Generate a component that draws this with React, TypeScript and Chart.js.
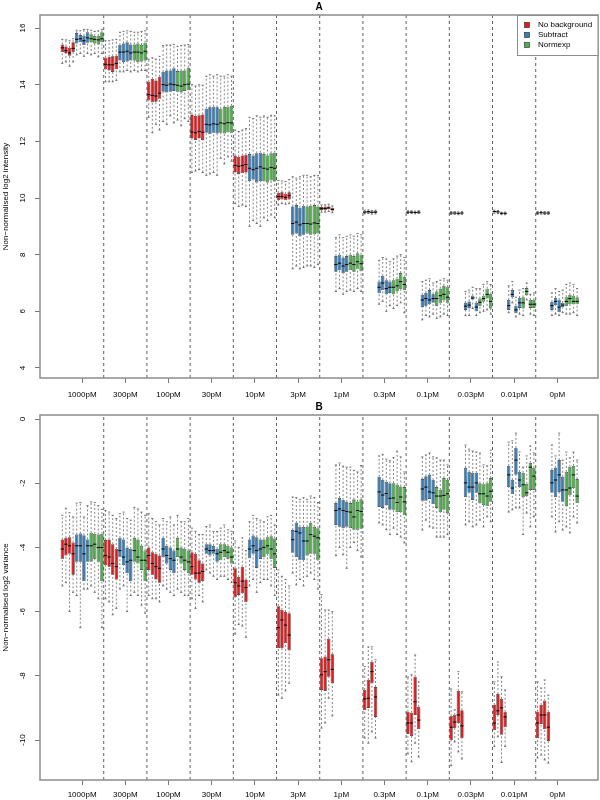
import React, { useEffect, useRef } from 'react';
import { Chart, registerables } from 'chart.js';

Chart.register(...registerables);

const FONT = "'Liberation Sans', Arial, Helvetica, sans-serif";

const CONCENTRATIONS = ['1000pM', '300pM', '100pM', '30pM', '10pM', '3pM', '1pM', '0.3pM', '0.1pM', '0.03pM', '0.01pM', '0pM'];
const SERIES = ['No background', 'Subtract', 'Normexp'];
const COLORS = ['#E41A1C', '#377EB8', '#4DAF4A'];
const REPS = 4;

// Each box: [lower whisker, Q1, median, Q3, upper whisker]; 4 replicate arrays per concentration.
const A_NOBG = [
  [14.75, 15.15, 15.3, 15.42, 15.6], [14.8, 15.1, 15.2, 15.35, 15.58], [14.65, 15.02, 15.12, 15.3, 15.55], [14.8, 15.15, 15.28, 15.5, 15.62],
  [14.1, 14.55, 14.72, 14.95, 15.55], [14.1, 14.5, 14.7, 14.98, 15.55], [14.1, 14.45, 14.7, 15.0, 15.58], [14.15, 14.55, 14.75, 15.02, 15.6],
  [12.85, 13.45, 13.65, 14.1, 14.9], [12.3, 13.38, 13.62, 14.2, 14.95], [12.6, 13.4, 13.6, 14.15, 14.9], [12.4, 13.5, 13.7, 14.28, 15.0],
  [10.9, 12.1, 12.33, 12.95, 14.0], [10.95, 12.05, 12.3, 12.9, 13.95], [11.0, 12.1, 12.35, 12.92, 14.0], [10.9, 12.05, 12.32, 12.95, 13.98],
  [9.8, 10.9, 11.15, 11.5, 12.4], [9.7, 10.85, 11.12, 11.45, 12.35], [9.75, 10.88, 11.15, 11.5, 12.4], [9.7, 10.9, 11.18, 11.52, 12.45],
  [9.75, 9.93, 10.05, 10.18, 10.62], [9.8, 9.95, 10.05, 10.2, 10.6], [9.78, 9.92, 10.02, 10.15, 10.58], [9.8, 9.95, 10.08, 10.2, 10.65],
  [9.5, 9.57, 9.62, 9.68, 9.76], [9.5, 9.57, 9.63, 9.7, 9.76], [9.52, 9.6, 9.65, 9.7, 9.78], [9.48, 9.55, 9.6, 9.66, 9.72],
  [9.44, 9.48, 9.5, 9.53, 9.57], [9.45, 9.49, 9.51, 9.54, 9.58], [9.43, 9.47, 9.5, 9.52, 9.56], [9.44, 9.48, 9.5, 9.53, 9.57],
  [9.45, 9.48, 9.5, 9.52, 9.55], [9.45, 9.48, 9.5, 9.52, 9.55], [9.44, 9.47, 9.49, 9.51, 9.54], [9.45, 9.48, 9.5, 9.52, 9.55],
  [9.42, 9.45, 9.47, 9.49, 9.52], [9.42, 9.45, 9.47, 9.49, 9.52], [9.41, 9.44, 9.46, 9.48, 9.51], [9.42, 9.45, 9.47, 9.49, 9.52],
  [9.46, 9.5, 9.52, 9.54, 9.57], [9.45, 9.49, 9.51, 9.53, 9.56], [9.41, 9.44, 9.46, 9.48, 9.5], [9.41, 9.44, 9.46, 9.48, 9.5],
  [9.42, 9.45, 9.47, 9.49, 9.52], [9.43, 9.46, 9.48, 9.5, 9.53], [9.42, 9.45, 9.47, 9.49, 9.52], [9.42, 9.45, 9.47, 9.49, 9.52],
];
const A_SUB = [
  [15.05, 15.45, 15.6, 15.82, 15.92], [15.1, 15.5, 15.62, 15.75, 15.9], [15.0, 15.4, 15.55, 15.72, 15.95], [15.1, 15.48, 15.65, 15.85, 15.95],
  [14.45, 14.85, 15.15, 15.4, 15.85], [14.45, 14.8, 15.15, 15.45, 15.88], [14.5, 14.82, 15.18, 15.5, 15.9], [14.45, 14.85, 15.12, 15.42, 15.88],
  [12.7, 13.75, 14.0, 14.45, 15.38], [12.6, 13.72, 13.98, 14.5, 15.4], [12.9, 13.75, 14.02, 14.5, 15.4], [12.65, 13.78, 14.0, 14.58, 15.42],
  [10.8, 12.3, 12.6, 13.15, 14.3], [10.85, 12.25, 12.58, 13.2, 14.35], [10.9, 12.3, 12.62, 13.22, 14.3], [10.8, 12.28, 12.6, 13.2, 14.35],
  [9.0, 10.6, 11.05, 11.55, 12.85], [9.2, 10.65, 11.0, 11.5, 12.8], [9.1, 10.55, 11.05, 11.58, 12.9], [9.0, 10.6, 11.1, 11.6, 12.85],
  [7.5, 8.7, 9.1, 9.7, 10.75], [7.6, 8.75, 9.15, 9.75, 10.7], [7.5, 8.65, 9.05, 9.65, 10.75], [7.55, 8.7, 9.1, 9.72, 10.8],
  [6.7, 7.4, 7.65, 7.95, 8.6], [6.8, 7.45, 7.7, 8.0, 8.7], [6.6, 7.35, 7.6, 7.9, 8.6], [6.7, 7.4, 7.65, 7.95, 8.65],
  [6.25, 6.64, 6.85, 7.05, 7.8], [6.35, 6.75, 7.0, 7.25, 7.9], [6.0, 6.6, 6.8, 7.1, 7.85], [6.2, 6.65, 6.85, 7.05, 7.75],
  [5.7, 6.15, 6.4, 6.58, 7.05], [5.85, 6.2, 6.45, 6.65, 7.1], [5.8, 6.25, 6.4, 6.75, 7.15], [5.9, 6.3, 6.45, 6.6, 7.0],
  [5.85, 6.05, 6.18, 6.3, 6.7], [5.85, 6.1, 6.22, 6.35, 6.75], [6.1, 6.42, 6.47, 6.55, 6.85], [5.85, 6.0, 6.15, 6.3, 6.8],
  [5.95, 6.05, 6.2, 6.4, 6.9], [6.3, 6.5, 6.6, 6.75, 7.05], [5.8, 5.93, 6.05, 6.2, 6.5], [5.9, 6.12, 6.3, 6.47, 6.75],
  [5.85, 6.05, 6.2, 6.33, 6.65], [5.9, 6.22, 6.35, 6.47, 6.8], [5.85, 5.97, 6.15, 6.4, 6.7], [5.95, 6.15, 6.22, 6.3, 6.75],
];
const A_NORM = [
  [15.05, 15.5, 15.62, 15.78, 15.92], [15.1, 15.45, 15.6, 15.72, 15.88], [14.98, 15.42, 15.58, 15.72, 15.9], [15.1, 15.5, 15.62, 15.85, 15.95],
  [14.5, 14.85, 15.15, 15.42, 15.85], [14.45, 14.8, 15.15, 15.45, 15.85], [14.5, 14.82, 15.12, 15.4, 15.88], [14.5, 14.85, 15.18, 15.48, 15.9],
  [12.75, 13.75, 13.98, 14.48, 15.35], [12.55, 13.72, 13.95, 14.5, 15.38], [12.8, 13.78, 14.0, 14.5, 15.4], [12.7, 13.8, 14.02, 14.6, 15.42],
  [11.4, 12.3, 12.65, 13.15, 14.3], [11.2, 12.28, 12.62, 13.2, 14.3], [11.45, 12.32, 12.66, 13.22, 14.35], [11.3, 12.3, 12.65, 13.25, 14.3],
  [9.3, 10.6, 11.05, 11.55, 12.9], [9.2, 10.55, 11.02, 11.5, 12.85], [9.4, 10.62, 11.08, 11.58, 12.92], [9.3, 10.58, 11.05, 11.6, 12.9],
  [7.6, 8.75, 9.1, 9.7, 10.8], [7.6, 8.7, 9.08, 9.72, 10.75], [7.55, 8.72, 9.12, 9.75, 10.8], [7.65, 8.75, 9.1, 9.7, 10.8],
  [6.75, 7.45, 7.7, 8.0, 8.7], [6.7, 7.4, 7.65, 7.95, 8.65], [6.8, 7.5, 7.75, 8.05, 8.75], [6.7, 7.42, 7.68, 8.0, 8.7],
  [6.1, 6.6, 6.85, 7.1, 7.85], [6.2, 6.7, 6.9, 7.15, 7.95], [6.3, 6.8, 7.05, 7.35, 8.0], [5.95, 6.75, 6.95, 7.2, 7.9],
  [5.75, 6.2, 6.45, 6.7, 7.05], [5.8, 6.3, 6.55, 6.8, 7.1], [5.9, 6.4, 6.6, 6.9, 7.15], [5.85, 6.3, 6.5, 6.85, 7.1],
  [5.95, 6.2, 6.32, 6.45, 6.8], [6.0, 6.35, 6.45, 6.55, 6.95], [6.05, 6.45, 6.6, 6.8, 7.05], [5.9, 6.1, 6.35, 6.6, 6.95],
  [5.85, 6.1, 6.3, 6.5, 6.8], [6.4, 6.57, 6.7, 6.82, 7.0], [5.9, 6.12, 6.25, 6.4, 6.6], [5.85, 6.12, 6.25, 6.4, 6.65],
  [5.9, 6.2, 6.35, 6.5, 6.95], [5.9, 6.25, 6.45, 6.58, 7.0], [5.95, 6.25, 6.35, 6.55, 6.95], [5.85, 6.25, 6.35, 6.5, 6.8],
];

const B_NOBG = [
  [-5.2, -4.35, -4.05, -3.75, -3.0], [-5.1, -4.25, -3.9, -3.7, -2.78], [-6.0, -4.2, -3.95, -3.68, -2.92], [-5.4, -4.85, -4.2, -3.85, -3.05],
  [-5.6, -4.55, -4.25, -3.77, -2.85], [-5.7, -4.6, -4.3, -3.75, -2.9], [-6.1, -4.85, -4.5, -3.9, -3.0], [-5.9, -5.0, -4.6, -4.05, -3.1],
  [-5.5, -4.7, -4.25, -4.0, -2.95], [-5.6, -4.85, -4.5, -4.15, -3.1], [-5.6, -5.0, -4.6, -4.2, -3.2], [-5.7, -5.1, -4.65, -4.25, -3.3],
  [-5.6, -4.85, -4.6, -4.15, -3.4], [-5.9, -5.0, -4.8, -4.2, -3.5], [-5.5, -5.1, -4.8, -4.4, -3.6], [-5.7, -5.05, -4.75, -4.5, -3.6],
  [-6.7, -5.55, -5.1, -4.65, -3.8], [-6.4, -5.48, -5.2, -4.92, -4.0], [-6.45, -5.43, -5.05, -4.6, -3.7], [-6.8, -5.7, -5.25, -5.0, -4.1],
  [-8.6, -7.14, -6.5, -5.83, -4.7], [-8.7, -7.14, -6.26, -5.95, -4.9], [-8.47, -6.98, -6.42, -6.01, -5.0], [-8.23, -7.2, -6.73, -6.05, -5.2],
  [-9.63, -8.44, -7.97, -7.45, -5.47], [-9.47, -8.47, -7.87, -7.4, -5.95], [-8.7, -8.03, -7.5, -6.85, -5.95], [-9.25, -8.23, -7.8, -7.33, -6.0],
  [-9.94, -9.07, -8.72, -8.44, -7.71], [-10.1, -9.0, -8.7, -8.13, -7.1], [-9.75, -8.23, -7.87, -7.57, -7.1], [-9.94, -9.28, -8.66, -8.35, -7.5],
  [-10.43, -9.81, -9.47, -9.12, -8.04], [-10.68, -9.88, -9.47, -9.15, -7.97], [-10.1, -9.22, -8.81, -8.03, -7.35], [-10.53, -9.66, -9.38, -8.97, -8.19],
  [-10.8, -10.0, -9.6, -9.25, -8.41], [-10.06, -9.63, -9.44, -9.22, -9.06], [-10.37, -9.47, -9.22, -8.47, -7.87], [-10.59, -9.94, -9.56, -9.07, -8.5],
  [-10.2, -9.69, -9.47, -8.91, -8.19], [-9.9, -9.22, -9.09, -8.57, -7.57], [-10.7, -9.84, -9.0, -8.72, -8.03], [-10.2, -9.6, -9.28, -9.12, -8.44],
  [-10.56, -9.94, -9.47, -9.12, -8.19], [-10.47, -9.5, -9.22, -8.91, -8.38], [-10.62, -9.66, -9.22, -8.78, -8.13], [-10.72, -10.03, -9.6, -9.12, -8.6],
];
const B_SUB = [
  [-5.5, -4.45, -3.95, -3.6, -2.62], [-6.5, -4.45, -3.95, -3.57, -2.6], [-5.3, -5.05, -4.2, -3.62, -3.05], [-5.3, -4.45, -3.95, -3.75, -2.7],
  [-5.3, -4.3, -4.1, -3.7, -2.95], [-5.2, -4.55, -4.3, -3.75, -2.9], [-6.0, -4.8, -4.45, -4.0, -3.1], [-5.5, -5.05, -4.4, -4.05, -3.15],
  [-5.2, -4.3, -4.05, -3.7, -3.1], [-5.3, -4.5, -4.25, -3.95, -3.2], [-5.4, -4.7, -4.35, -4.0, -3.05], [-5.5, -4.8, -4.4, -4.1, -3.3],
  [-4.7, -4.2, -4.05, -3.9, -3.35], [-4.8, -4.25, -4.1, -3.9, -3.3], [-4.9, -4.2, -4.1, -3.95, -3.5], [-5.0, -4.45, -4.2, -4.05, -3.5],
  [-5.2, -4.34, -4.05, -3.75, -3.2], [-5.0, -4.2, -3.95, -3.63, -3.0], [-5.4, -4.64, -4.1, -3.68, -3.1], [-5.1, -4.36, -4.05, -3.75, -3.15],
  [-4.8, -4.17, -3.76, -3.46, -2.43], [-5.17, -4.3, -3.5, -3.24, -2.45], [-5.0, -4.4, -3.55, -3.36, -2.5], [-5.2, -4.4, -3.8, -3.36, -2.45],
  [-4.26, -3.3, -2.85, -2.62, -1.43], [-4.0, -3.36, -2.8, -2.46, -1.37], [-4.23, -3.4, -2.85, -2.52, -1.47], [-4.65, -3.36, -2.88, -2.58, -1.5],
  [-3.24, -2.74, -2.27, -1.8, -1.15], [-3.3, -2.77, -2.37, -1.9, -1.1], [-3.45, -2.68, -2.32, -1.96, -1.25], [-3.6, -2.83, -2.47, -2.0, -1.3],
  [-3.46, -2.55, -2.18, -1.87, -1.18], [-3.15, -2.55, -2.12, -1.78, -1.12], [-3.36, -2.49, -2.27, -1.74, -1.06], [-3.4, -2.65, -2.3, -1.9, -1.18],
  [-3.3, -2.43, -1.99, -1.52, -0.81], [-3.2, -2.3, -2.12, -1.65, -0.94], [-3.36, -2.52, -2.12, -1.68, -1.0], [-3.3, -2.3, -1.99, -1.68, -1.03],
  [-2.9, -2.12, -1.74, -1.46, -0.72], [-2.83, -2.34, -2.15, -1.9, -0.68], [-2.77, -1.74, -1.28, -0.9, -0.44], [-2.77, -2.12, -1.9, -1.65, -1.03],
  [-3.05, -2.3, -1.99, -1.59, -0.81], [-3.52, -2.43, -1.9, -1.52, -1.15], [-3.2, -2.27, -1.74, -1.28, -0.44], [-3.46, -2.58, -2.21, -1.8, -1.28],
];
const B_NORM = [
  [-5.2, -4.45, -3.95, -3.55, -2.58], [-5.4, -4.35, -3.9, -3.58, -2.6], [-5.6, -4.45, -4.0, -3.6, -2.7], [-6.5, -5.05, -4.0, -3.58, -2.82],
  [-5.4, -4.45, -4.1, -3.7, -2.75], [-5.5, -4.5, -4.3, -3.75, -2.8], [-5.8, -4.7, -4.4, -3.95, -2.9], [-6.05, -5.05, -4.4, -4.1, -3.0],
  [-5.3, -4.3, -4.05, -3.7, -3.0], [-5.4, -4.5, -4.3, -4.0, -3.2], [-5.5, -4.7, -4.4, -4.05, -3.2], [-5.5, -4.8, -4.45, -4.1, -3.1],
  [-4.9, -4.4, -4.15, -3.9, -3.4], [-4.9, -4.3, -4.1, -3.9, -3.3], [-5.0, -4.35, -4.15, -3.95, -3.45], [-5.1, -4.5, -4.3, -4.0, -3.5],
  [-5.0, -4.3, -4.0, -3.75, -3.2], [-5.0, -4.2, -3.95, -3.68, -3.05], [-5.2, -4.35, -4.05, -3.65, -3.0], [-5.5, -4.64, -4.2, -3.72, -3.3],
  [-4.9, -4.25, -3.8, -3.36, -2.5], [-4.8, -4.2, -3.6, -3.24, -2.4], [-5.0, -4.2, -3.65, -3.36, -2.45], [-5.3, -4.4, -3.7, -3.4, -2.6],
  [-4.0, -3.4, -2.9, -2.62, -1.5], [-3.85, -3.45, -3.05, -2.5, -1.6], [-4.1, -3.45, -2.85, -2.58, -1.65], [-4.3, -3.42, -2.88, -2.5, -1.45],
  [-3.4, -2.83, -2.46, -2.0, -1.2], [-3.6, -2.9, -2.6, -2.05, -1.0], [-3.68, -2.9, -2.43, -2.1, -1.18], [-3.86, -3.0, -2.58, -2.12, -1.65],
  [-3.68, -2.77, -2.4, -2.12, -1.21], [-3.68, -2.9, -2.4, -2.21, -1.28], [-3.68, -2.83, -2.38, -1.84, -1.28], [-3.6, -2.93, -2.33, -1.9, -1.43],
  [-3.15, -2.62, -2.33, -2.0, -1.06], [-3.36, -2.68, -2.33, -2.03, -1.43], [-3.05, -2.71, -2.4, -2.0, -1.46], [-3.2, -2.58, -2.25, -1.84, -0.97],
  [-3.6, -2.43, -2.05, -1.68, -1.5], [-2.93, -2.4, -2.3, -2.02, -1.15], [-3.36, -2.21, -1.5, -1.37, -0.84], [-3.05, -2.21, -1.78, -1.52, -1.06],
  [-3.36, -2.71, -2.21, -1.65, -1.03], [-3.55, -2.37, -2.15, -1.49, -1.21], [-3.05, -2.15, -1.74, -1.46, -1.03], [-3.24, -2.62, -2.4, -1.87, -1.28],
];

const GROUP_SIZE = SERIES.length * REPS;
const X_MIN = -5.2;
const X_MAX = 149.8;
const GROUP_CENTERS = CONCENTRATIONS.map((_, g) => g * GROUP_SIZE + (GROUP_SIZE + 1) / 2);
const SEPARATORS = CONCENTRATIONS.slice(1).map((_, g) => (g + 1) * GROUP_SIZE + 0.5);
const CAP = 0.3;
const MED = 0.46;

const pos = (i: number, s: number) => Math.floor(i / REPS) * GROUP_SIZE + s * REPS + (i % REPS) + 1;

const PANEL_A = {
  title: 'A', yTitle: 'Non\u2212normalised log2 intensity', yMin: 3.647, yMax: 16.459,
  series: [A_NOBG, A_SUB, A_NORM], legend: true, xAxisHeight: 22, xTickPad: 6.6, yTickPad: 7.8,
};
const PANEL_B = {
  title: 'B', yTitle: 'Non\u2212normalised log2 variance', yMin: -11.246, yMax: 0.125,
  series: [B_NOBG, B_SUB, B_NORM], legend: false, xAxisHeight: 20, xTickPad: 4.6, yTickPad: 6.2,
};

const framePlugin = {
  id: 'frame',
  afterDatasetsDraw(chart: any) {
    const { ctx, chartArea: a } = chart;
    ctx.save();
    ctx.strokeStyle = '#8c8c8c';
    ctx.lineWidth = 1.5;
    ctx.strokeRect(a.left, a.top, a.right - a.left, a.bottom - a.top);
    ctx.restore();
  },
};

const legendPlugin = {
  id: 'boxLegend',
  afterDraw(chart: any) {
    const { ctx, chartArea: a } = chart;
    const items = chart.data.datasets.filter((d: any) => d.legendBox);
    const w = 81, rowH = 10, pad = 5;
    const x0 = a.right - w, y0 = a.top;
    const h = items.length * rowH + 2 * pad;
    ctx.save();
    ctx.fillStyle = '#ffffff';
    ctx.fillRect(x0, y0, w, h);
    ctx.strokeStyle = '#8c8c8c';
    ctx.lineWidth = 1;
    ctx.strokeRect(x0 + 0.5, y0 + 0.5, w - 0.5, h);
    ctx.font = `8px ${FONT}`;
    ctx.textBaseline = 'middle';
    ctx.textAlign = 'left';
    items.forEach((d: any, i: number) => {
      const cy = y0 + pad + rowH * i + rowH / 2;
      ctx.fillStyle = d.backgroundColor;
      ctx.fillRect(x0 + 7.5, cy - 2.5, 5, 5);
      ctx.strokeStyle = '#222';
      ctx.lineWidth = 0.6;
      ctx.strokeRect(x0 + 7.5, cy - 2.5, 5, 5);
      ctx.fillStyle = '#000';
      ctx.fillText(d.label, x0 + 21, cy);
    });
    ctx.restore();
  },
};

function makeConfig(p: any): any {
  const datasets: any[] = [];
  p.series.forEach((boxes: number[][], s: number) => {
    datasets.push({
      type: 'bar',
      label: SERIES[s],
      legendBox: true,
      order: 2,
      data: boxes.map((b, i) => ({ x: pos(i, s), y: [b[1], b[3]] })),
      backgroundColor: COLORS[s],
      borderColor: '#262626',
      borderWidth: 0.6,
      borderSkipped: false,
      grouped: false,
      categoryPercentage: 1,
      barPercentage: 0.92,
    });
  });
  const whiskers: any[] = [];
  const caps: any[] = [];
  const medians: any[] = [];
  p.series.forEach((boxes: number[][], s: number) =>
    boxes.forEach((b, i) => {
      const x = pos(i, s);
      whiskers.push({ x, y: b[0] }, { x, y: b[1] }, { x, y: null }, { x, y: b[3] }, { x, y: b[4] }, { x, y: null });
      caps.push({ x: x - CAP, y: b[0] }, { x: x + CAP, y: b[0] }, { x, y: null }, { x: x - CAP, y: b[4] }, { x: x + CAP, y: b[4] }, { x, y: null });
      medians.push({ x: x - MED, y: b[2] }, { x: x + MED, y: b[2] }, { x, y: null });
    })
  );
  const seps: any[] = [];
  SEPARATORS.forEach((x) => seps.push({ x, y: p.yMin }, { x, y: p.yMax }, { x, y: null }));
  const line = (data: any[], color: string, width: number, dash: number[], order: number) => ({
    type: 'line', data, borderColor: color, borderWidth: width, borderDash: dash, pointRadius: 0,
    fill: false, spanGaps: false, order, tension: 0,
  });
  datasets.push(
    line(seps, '#333333', 0.8, [3, 3], 5),
    line(whiskers, '#505050', 0.7, [2, 2], 4),
    line(caps, '#404040', 0.7, [], 3),
    line(medians, '#000000', 1, [], 1)
  );

  return {
    type: 'bar',
    data: { datasets },
    options: {
      responsive: false,
      maintainAspectRatio: false,
      animation: false,
      events: [],
      layout: { padding: { left: 0, right: 2, top: 0, bottom: 0 } },
      plugins: {
        legend: { display: false },
        tooltip: { enabled: false },
        title: {
          display: true, text: p.title, fullSize: false, color: '#000',
          font: { family: FONT, size: 10, weight: 'bold' }, padding: { top: 1, bottom: 2 },
        },
      },
      scales: {
        x: {
          type: 'linear', min: X_MIN, max: X_MAX, offset: false,
          afterBuildTicks: (sc: any) => { sc.ticks = GROUP_CENTERS.map((v) => ({ value: v })); },
          afterFit: (sc: any) => { sc.height = p.xAxisHeight; },
          ticks: {
            autoSkip: false, maxRotation: 0, minRotation: 0, padding: p.xTickPad, color: '#000',
            font: { family: FONT, size: 8 },
            callback: (_v: any, i: number) => CONCENTRATIONS[i],
          },
          grid: { display: true, drawOnChartArea: false, drawTicks: true, tickLength: 5, tickColor: '#7a7a7a', tickWidth: 1, offset: false },
          border: { display: false },
        },
        y: {
          type: 'linear', min: p.yMin, max: p.yMax,
          afterFit: (sc: any) => { sc.width = 40; },
          ticks: {
            stepSize: 2, includeBounds: false, minRotation: 90, maxRotation: 90, crossAlign: 'center',
            padding: p.yTickPad, color: '#000', autoSkip: false, font: { family: FONT, size: 8 },
          },
          grid: { drawOnChartArea: false, drawTicks: true, tickLength: 5, tickColor: '#7a7a7a', tickWidth: 1 },
          border: { display: false },
          title: {
            display: true, text: p.yTitle, color: '#000', font: { family: FONT, size: 8 },
            padding: { top: 1.2, bottom: 0 },
          },
        },
      },
    },
    plugins: p.legend ? [framePlugin, legendPlugin] : [framePlugin],
  };
}

export default function App() {
  const refA = useRef<HTMLCanvasElement | null>(null);
  const refB = useRef<HTMLCanvasElement | null>(null);
  useEffect(() => {
    const charts: Chart[] = [];
    if (refA.current) charts.push(new Chart(refA.current, makeConfig(PANEL_A)));
    if (refB.current) charts.push(new Chart(refB.current, makeConfig(PANEL_B)));
    return () => charts.forEach((c) => c.destroy());
  }, []);
  return (
    <div style={{ position: 'absolute', left: 0, top: 0, width: 600, height: 800, background: '#fff' }}>
      <canvas ref={refA} width={600} height={400} style={{ display: 'block', width: 600, height: 400 }} />
      <canvas ref={refB} width={600} height={400} style={{ display: 'block', width: 600, height: 400 }} />
    </div>
  );
}
